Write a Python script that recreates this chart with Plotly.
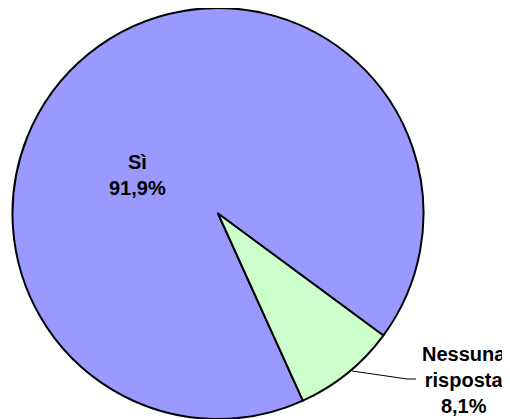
import plotly.graph_objects as go

labels = ["Sì", "Nessuna<br>risposta"]
values = [91.9, 8.1]
colors = ["#9999FF", "#CCFFCC"]

# the page body has an 8px margin, so the figure is drawn 8px in from the corner
OFF = 8
W, H = 510 - OFF, 419 - OFF


def px(x, y):
    # screen pixel position -> paper coordinates
    return (x - OFF) / W, 1 - (y - OFF) / H


def pct(v):
    return ("%.1f%%" % v).replace(".", ",")


fig = go.Figure()
fig.add_trace(go.Pie(
    labels=labels,
    values=values,
    sort=False,
    direction="clockwise",
    rotation=155.6,
    marker=dict(colors=colors, line=dict(color="black", width=2)),
    textinfo="none",
    hoverinfo="label+percent",
    showlegend=False,
    domain=dict(x=[(12 - OFF) / W, (424 - OFF) / W], y=[0, 1]),
))

# labels
pos = [(137, 175), (464, 380)]
for lab, v, (x, y) in zip(labels, values, pos):
    ax, ay = px(x, y)
    fig.add_annotation(x=ax, y=ay, xref="paper", yref="paper",
                       text="<b>%s<br>%s</b>" % (lab, pct(v)),
                       showarrow=False, xanchor="center", yanchor="middle",
                       font=dict(family="Liberation Sans, Arial", size=20, color="black"))

# leader line for the small slice
x0, y0 = px(352, 371)
x1, y1 = px(407, 379)
x2, y2 = px(416, 379)
fig.add_shape(type="path", xref="paper", yref="paper",
              path="M %f %f L %f %f L %f %f" % (x0, y0, x1, y1, x2, y2),
              line=dict(color="black", width=1))

fig.update_layout(width=W, height=H, margin=dict(l=0, r=0, t=0, b=0),
                  paper_bgcolor="white", plot_bgcolor="white")
fig.write_html("out.html")
